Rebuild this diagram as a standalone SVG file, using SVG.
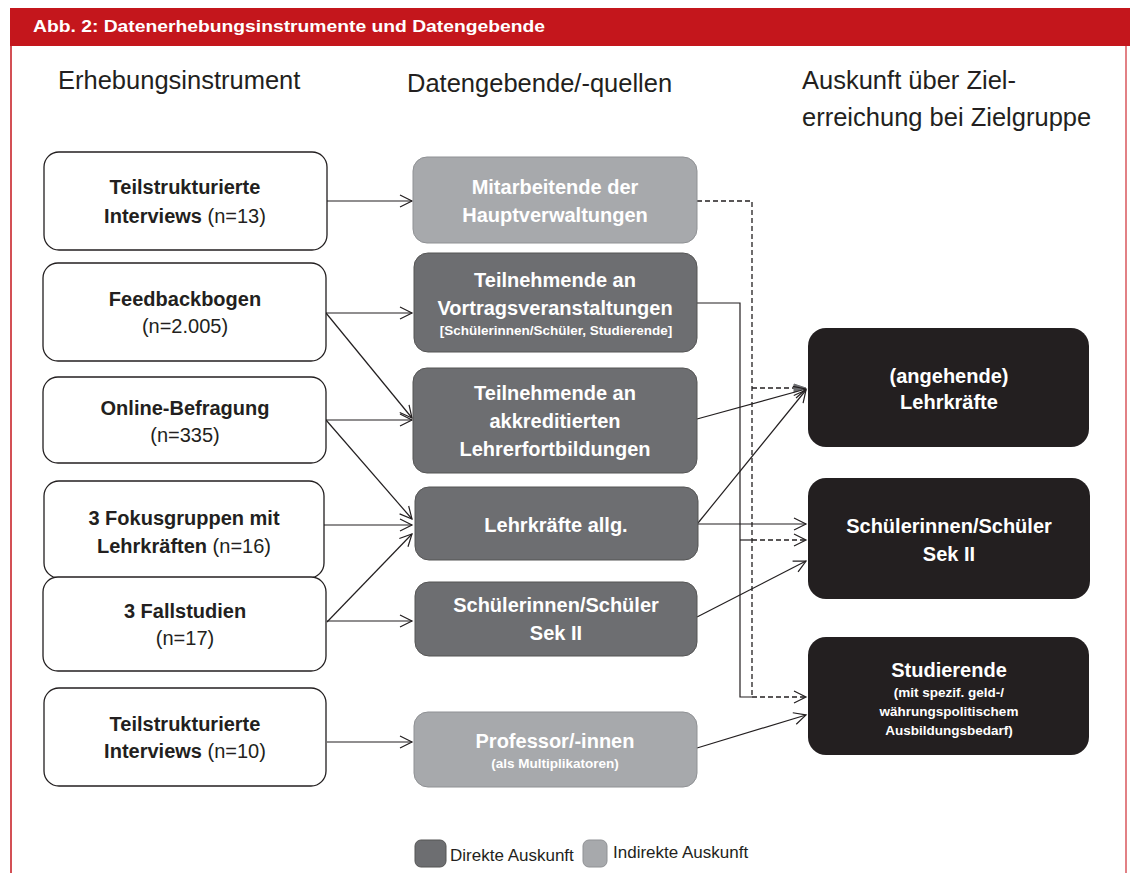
<svg xmlns="http://www.w3.org/2000/svg" width="1130" height="873" viewBox="0 0 1130 873">
<style>
text{font-family:"Liberation Sans",Arial,sans-serif}
.lbox{fill:#fff;stroke:#231f20;stroke-width:1.3}
.dark{fill:#6d6e71;stroke:#555;stroke-width:1}
.light{fill:#a7a9ac;stroke:#8f9194;stroke-width:1}
.black{fill:#231f20}
.bt{font-weight:bold;font-size:20px;text-anchor:middle}
.k{fill:#231f20}
.w{fill:#fff}
.n{font-weight:normal}
.sm{font-weight:bold;font-size:13.5px;text-anchor:middle;fill:#fff}
.head{font-size:25.5px;fill:#231f20}
.con{fill:none;stroke:#231f20;stroke-width:1.2}
.dash{fill:none;stroke:#231f20;stroke-width:1.3;stroke-dasharray:5,3}
</style>
<defs>
<marker id="arr" markerUnits="userSpaceOnUse" markerWidth="16" markerHeight="16" refX="13" refY="7" orient="auto">
<path d="M1,1 L13,7 L1,13" fill="none" stroke="#231f20" stroke-width="1.2"/>
</marker>
<marker id="arrg" markerUnits="userSpaceOnUse" markerWidth="16" markerHeight="16" refX="13" refY="7" orient="auto">
<path d="M1,3 L13,7 L1,11 Z" fill="#6d6e71" stroke="#6d6e71" stroke-width="1"/>
</marker>
</defs>
<rect width="1130" height="873" fill="#fff"/>
<g id="frame">
<rect x="10" y="8" width="1120" height="38" fill="#c4161c"/>
<line x1="11" y1="46" x2="11" y2="873" stroke="#c4161c" stroke-width="1.5"/>
<line x1="1126" y1="46" x2="1126" y2="873" stroke="#d9575c" stroke-width="1.5"/>
<text x="33" y="32" font-size="16" font-weight="bold" fill="#fff" textLength="512" lengthAdjust="spacingAndGlyphs">Abb. 2: Datenerhebungsinstrumente und Datengebende</text>
</g>
<g id="headings">
<text class="head" x="58" y="89">Erhebungsinstrument</text>
<text class="head" x="407" y="92">Datengebende/-quellen</text>
<text class="head" x="802" y="89">Auskunft über Ziel-</text>
<text class="head" x="802" y="126">erreichung bei Zielgruppe</text>
</g>
<g id="connectors">
<line class="con" x1="327" y1="201" x2="412" y2="201" marker-end="url(#arr)"/>
<line class="con" x1="326" y1="313" x2="412" y2="313" marker-end="url(#arr)"/>
<line class="con" x1="326" y1="313" x2="412" y2="418" marker-end="url(#arr)"/>
<line class="con" x1="326" y1="420" x2="412" y2="420" marker-end="url(#arr)"/>
<line class="con" x1="326" y1="420" x2="412" y2="519" marker-end="url(#arr)"/>
<line class="con" x1="324" y1="525" x2="412" y2="525" marker-end="url(#arr)"/>
<line class="con" x1="327" y1="622" x2="412" y2="534" marker-end="url(#arr)"/>
<line class="con" x1="327" y1="621" x2="412" y2="621" marker-end="url(#arr)"/>
<line class="con" x1="327" y1="742" x2="412" y2="742" marker-end="url(#arr)"/>
<path class="dash" d="M697,201 H752 V697"/>
<line class="dash" x1="752" y1="388" x2="806" y2="388" marker-end="url(#arrg)"/>
<line class="dash" x1="752" y1="540" x2="806" y2="540" marker-end="url(#arr)"/>
<path class="con" d="M697,303 H740 V697 H752"/>
<line class="con" x1="740" y1="540" x2="752" y2="540"/>
<line class="dash" x1="752" y1="697" x2="806" y2="697" marker-end="url(#arr)"/>
<line class="con" x1="697" y1="419" x2="806" y2="389" marker-end="url(#arr)"/>
<line class="con" x1="698" y1="523" x2="806" y2="390" marker-end="url(#arr)"/>
<line class="con" x1="698" y1="524" x2="806" y2="524" marker-end="url(#arr)"/>
<line class="con" x1="697" y1="617" x2="806" y2="561" marker-end="url(#arr)"/>
<line class="con" x1="697" y1="748" x2="806" y2="715" marker-end="url(#arr)"/>
</g>
<g id="L1"><rect class="lbox" x="44" y="152" width="283" height="98" rx="15"/>
<text class="bt k" x="185" y="194">Teilstrukturierte</text>
<text class="bt k" x="185" y="223">Interviews <tspan class="n">(n=13)</tspan></text></g>
<g id="L2"><rect class="lbox" x="43" y="263" width="283" height="98" rx="15"/>
<text class="bt k" x="185" y="306">Feedbackbogen</text>
<text class="bt k n" x="185" y="333">(n=2.005)</text></g>
<g id="L3"><rect class="lbox" x="43" y="377" width="283" height="86" rx="15"/>
<text class="bt k" x="185" y="415">Online-Befragung</text>
<text class="bt k n" x="185" y="442">(n=335)</text></g>
<g id="L4"><rect class="lbox" x="44" y="481" width="280" height="97" rx="15"/>
<text class="bt k" x="184" y="525">3 Fokusgruppen mit</text>
<text class="bt k" x="184" y="553">Lehrkräften <tspan class="n">(n=16)</tspan></text></g>
<g id="L5"><rect class="lbox" x="43" y="577" width="283" height="94" rx="15"/>
<text class="bt k" x="185" y="618">3 Fallstudien</text>
<text class="bt k n" x="185" y="645">(n=17)</text></g>
<g id="L6"><rect class="lbox" x="44" y="688" width="282" height="98" rx="15"/>
<text class="bt k" x="185" y="731">Teilstrukturierte</text>
<text class="bt k" x="185" y="758">Interviews <tspan class="n">(n=10)</tspan></text></g>
<g id="M1"><rect class="light" x="413" y="157" width="284" height="86" rx="14"/>
<text class="bt w" x="555" y="194">Mitarbeitende der</text>
<text class="bt w" x="555" y="222">Hauptverwaltungen</text></g>
<g id="M2"><rect class="dark" x="414" y="253" width="283" height="99" rx="14"/>
<text class="bt w" x="555" y="287">Teilnehmende an</text>
<text class="bt w" x="555" y="315">Vortragsveranstaltungen</text>
<text class="sm" x="556" y="335">[Schülerinnen/Schüler, Studierende]</text></g>
<g id="M3"><rect class="dark" x="413" y="368" width="284" height="105" rx="14"/>
<text class="bt w" x="555" y="400">Teilnehmende an</text>
<text class="bt w" x="555" y="428">akkreditierten</text>
<text class="bt w" x="555" y="456">Lehrerfortbildungen</text></g>
<g id="M4"><rect class="dark" x="415" y="487" width="283" height="73" rx="14"/>
<text class="bt w" x="556" y="532">Lehrkräfte allg.</text></g>
<g id="M5"><rect class="dark" x="415" y="582" width="282" height="74" rx="14"/>
<text class="bt w" x="556" y="612">Schülerinnen/Schüler</text>
<text class="bt w" x="556" y="640">Sek II</text></g>
<g id="M6"><rect class="light" x="414" y="712" width="283" height="75" rx="14"/>
<text class="bt w" x="555" y="748">Professor/-innen</text>
<text class="sm" x="555" y="768" font-size="12.5">(als Multiplikatoren)</text></g>
<g id="R1"><rect class="black" x="808" y="328" width="281" height="119" rx="18"/>
<text class="bt w" x="949" y="383">(angehende)</text>
<text class="bt w" x="949" y="409">Lehrkräfte</text></g>
<g id="R2"><rect class="black" x="808" y="478" width="282" height="121" rx="18"/>
<text class="bt w" x="949" y="533">Schülerinnen/Schüler</text>
<text class="bt w" x="949" y="561">Sek II</text></g>
<g id="R3"><rect class="black" x="808" y="637" width="281" height="118" rx="18"/>
<text class="bt w" x="949" y="677">Studierende</text>
<text class="sm" x="949" y="697" font-size="13">(mit spezif. geld-/</text>
<text class="sm" x="949" y="716" font-size="13">währungspolitischem</text>
<text class="sm" x="949" y="735" font-size="13">Ausbildungsbedarf)</text></g>
<g id="legend">
<rect class="dark" x="415" y="840" width="31" height="27" rx="6"/>
<text x="450" y="861" font-size="17" fill="#231f20">Direkte Auskunft</text>
<rect class="light" x="583" y="840" width="24" height="27" rx="6"/>
<text x="613" y="858" font-size="17" fill="#231f20">Indirekte Auskunft</text>
</g>
</svg>
